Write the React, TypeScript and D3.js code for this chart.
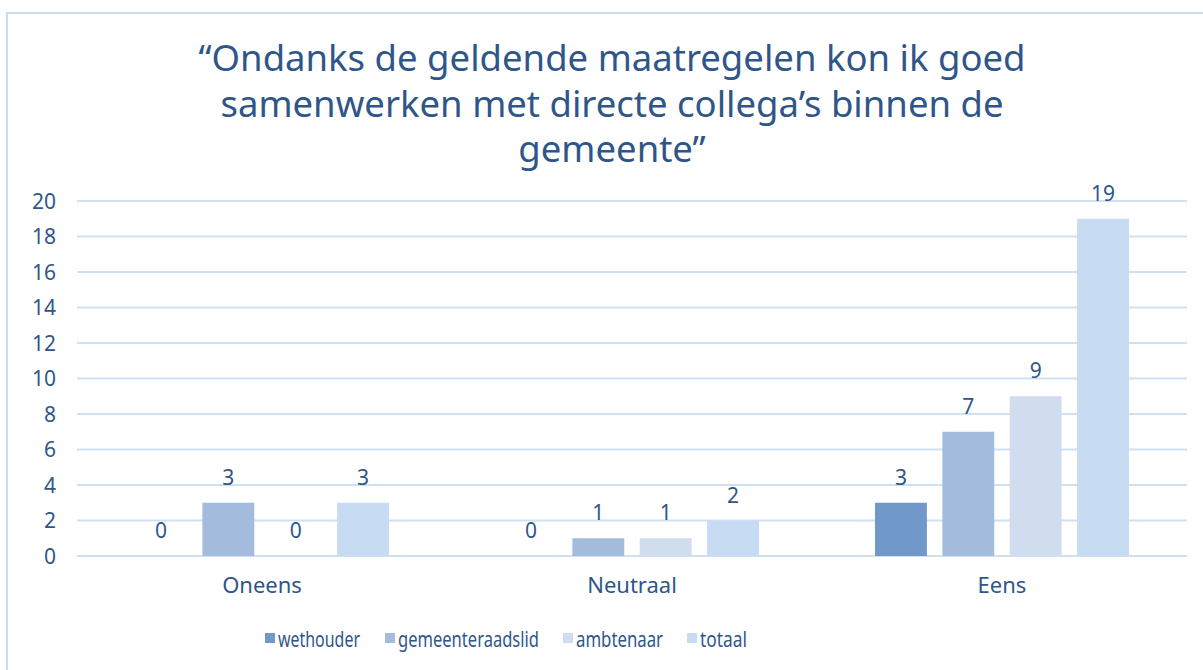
import { useEffect, useRef } from 'react';
import * as d3 from 'd3';

const categories = ['Oneens', 'Neutraal', 'Eens'];
const seriesNames = ['wethouder', 'gemeenteraadslid', 'ambtenaar', 'totaal'];
const wethouder = [0, 0, 3];
const gemeenteraadslid = [3, 1, 7];
const ambtenaar = [0, 1, 9];
const totaal = [3, 2, 19];
const yTicks = [0, 2, 4, 6, 8, 10, 12, 14, 16, 18, 20];
const titleLines = [
  '“Ondanks de geldende maatregelen kon ik goed',
  'samenwerken met directe collega’s binnen de',
  'gemeente”',
];

const colors = ['#7099c9', '#a3bcdd', '#d0ddee', '#c7dcf2'];
const textColor = '#2f5689';
const gridColor = '#cfe0f3';
const font = "'Noto Sans', sans-serif";

const App = () => {
  const ref = useRef(null);

  const width = 1203;
  const height = 670;
  const margin = { top: 201, right: 16, bottom: 114, left: 77 };

  useEffect(() => {
    const svg = d3.select(ref.current);
    svg.selectAll('*').remove();

    const values = [wethouder, gemeenteraadslid, ambtenaar, totaal];

    // outer frame
    svg
      .append('rect')
      .attr('x', 7)
      .attr('y', 13)
      .attr('width', width + 20)
      .attr('height', height + 20)
      .attr('fill', '#fff')
      .attr('stroke', '#cadcf1')
      .attr('stroke-width', 2);

    // title
    svg
      .append('g')
      .selectAll('text')
      .data(titleLines)
      .enter()
      .append('text')
      .attr('x', 612)
      .attr('y', (_d: any, i: number) => 71 + i * 45.5)
      .attr('text-anchor', 'middle')
      .style('font-family', font)
      .style('font-size', '36.5px')
      .attr('fill', textColor)
      .text((d: any) => d);

    const x0 = d3
      .scaleBand()
      .domain(categories)
      .range([margin.left, width - margin.right]);

    const x1 = d3
      .scaleBand()
      .domain(seriesNames)
      .range([58, x0.bandwidth() - 58])
      .paddingInner(0.23);

    const y = d3
      .scaleLinear()
      .domain([0, 20])
      .range([height - margin.bottom, margin.top]);

    // gridlines
    svg
      .append('g')
      .selectAll('line')
      .data(yTicks)
      .enter()
      .append('line')
      .attr('x1', margin.left)
      .attr('x2', width - margin.right)
      .attr('y1', (d: any) => y(d))
      .attr('y2', (d: any) => y(d))
      .attr('stroke', gridColor)
      .attr('stroke-width', 2);

    // y axis labels
    svg
      .append('g')
      .selectAll('text')
      .data(yTicks)
      .enter()
      .append('text')
      .attr('x', 56)
      .attr('y', (d: any) => y(d))
      .attr('dy', '0.36em')
      .attr('text-anchor', 'end')
      .style('font-family', font)
      .style('font-size', '21px')
      .attr('fill', textColor)
      .text((d: any) => d);

    // bars
    const groups = svg
      .append('g')
      .selectAll('g')
      .data(categories)
      .enter()
      .append('g')
      .attr('transform', (d: any) => `translate(${x0(d)},0)`);

    seriesNames.forEach((s, si) => {
      groups
        .append('rect')
        .attr('x', x1(s) as number)
        .attr('width', x1.bandwidth())
        .attr('y', (_d: any, i: number) => y(values[si][i]))
        .attr('height', (_d: any, i: number) => y(0) - y(values[si][i]))
        .attr('fill', colors[si]);

      groups
        .append('text')
        .attr('x', (x1(s) as number) + x1.bandwidth() / 2)
        .attr('y', (_d: any, i: number) => y(values[si][i]) - 18)
        .attr('text-anchor', 'middle')
        .style('font-family', font)
        .style('font-size', '21px')
        .attr('fill', textColor)
        .text((_d: any, i: number) => values[si][i]);
    });

    // x axis labels
    svg
      .append('g')
      .selectAll('text')
      .data(categories)
      .enter()
      .append('text')
      .attr('x', (d: any) => (x0(d) as number) + x0.bandwidth() / 2)
      .attr('y', 593)
      .attr('text-anchor', 'middle')
      .style('font-family', font)
      .style('font-size', '22px')
      .attr('fill', textColor)
      .text((d: any) => d);

    // legend
    const legendX = [265, 385, 563, 687];
    const legendW = [82, 141, 87, 47];
    const legend = svg
      .append('g')
      .selectAll('g')
      .data(seriesNames)
      .enter()
      .append('g')
      .attr('transform', (_d: any, i: number) => `translate(${legendX[i]},633)`);
    legend
      .append('rect')
      .attr('width', 10)
      .attr('height', 10)
      .attr('fill', (_d: any, i: number) => colors[i]);
    legend
      .append('text')
      .attr('x', 13)
      .attr('y', 14)
      .attr('textLength', (_d: any, i: number) => legendW[i])
      .attr('lengthAdjust', 'spacingAndGlyphs')
      .style('font-family', font)
      .style('font-size', '21px')
      .attr('fill', textColor)
      .text((d: any) => d);
  }, []);

  return (
    <svg
      ref={ref}
      width={width}
      height={height}
      style={{ position: 'absolute', left: 0, top: 0, background: '#fff' }}
    />
  );
};

export default App;
